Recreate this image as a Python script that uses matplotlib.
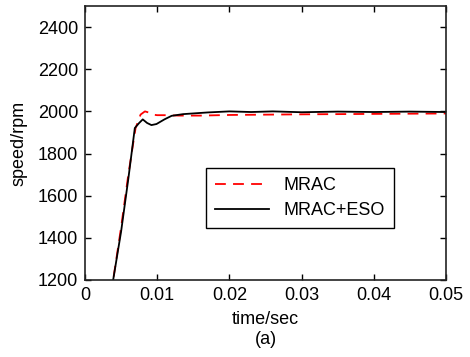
import matplotlib
matplotlib.use("Agg")
import matplotlib.pyplot as plt

plt.rcParams['font.family'] = ['Liberation Sans', 'DejaVu Sans']

# MRAC response (red dashed)
t_mrac = [0.0, 0.0039, 0.0050, 0.0060, 0.0070, 0.0077, 0.0083, 0.0088, 0.0093,
          0.0100, 0.0110, 0.0130, 0.0160, 0.0200, 0.0300, 0.0400, 0.0500]
v_mrac = [1000, 1200, 1450, 1700, 1920, 1985, 2000, 1995, 1985,
          1982, 1982, 1980, 1980, 1983, 1986, 1988, 1990]

# MRAC+ESO response (black solid)
t_eso = [0.0, 0.0039, 0.0050, 0.0060, 0.0069, 0.0075, 0.0080, 0.0086, 0.0092,
         0.0099, 0.0110, 0.0120, 0.0136, 0.0170, 0.0200, 0.0230, 0.0260,
         0.0300, 0.0350, 0.0400, 0.0450, 0.0500]
v_eso = [1000, 1200, 1430, 1680, 1921, 1945, 1962, 1945, 1935,
         1940, 1962, 1979, 1987, 1995, 2000, 1997, 2000,
         1996, 1999, 1997, 1999, 1997]

fig = plt.figure(figsize=(4.70, 3.57), dpi=100)
ax = fig.add_axes([85/470, 1 - 280/357, (446-85)/470, (280-6)/357])

ax.plot(t_mrac, v_mrac, color='red', linestyle='--', dashes=(6, 4), lw=1.3, label='MRAC')
ax.plot(t_eso, v_eso, color='black', lw=1.3, label='MRAC+ESO')

ax.set_xlim(0, 0.05)
ax.set_ylim(1200, 2500)
ax.set_xticks([0, 0.01, 0.02, 0.03, 0.04, 0.05])
ax.set_xticklabels(['0', '0.01', '0.02', '0.03', '0.04', '0.05'])
ax.set_yticks(range(1200, 2401, 200))
ax.tick_params(direction='in', top=True, right=True, labelsize=13, length=4, width=1, pad=5)
for s in ax.spines.values():
    s.set_linewidth(1.2)
    s.set_color('#222222')

ax.set_xlabel('time/sec\n(a)', fontsize=13, labelpad=5, linespacing=1.25)
ax.set_ylabel('speed/rpm', fontsize=13, labelpad=7)

leg = ax.legend(loc='upper left', bbox_to_anchor=((206-85)/361, (280-168)/274),
                borderaxespad=0, fontsize=13, fancybox=False, framealpha=1,
                edgecolor='black', borderpad=0.5, handlelength=3.0,
                labelspacing=0.45)
leg.get_frame().set_linewidth(1.0)

fig.savefig('out.png', dpi=100)
